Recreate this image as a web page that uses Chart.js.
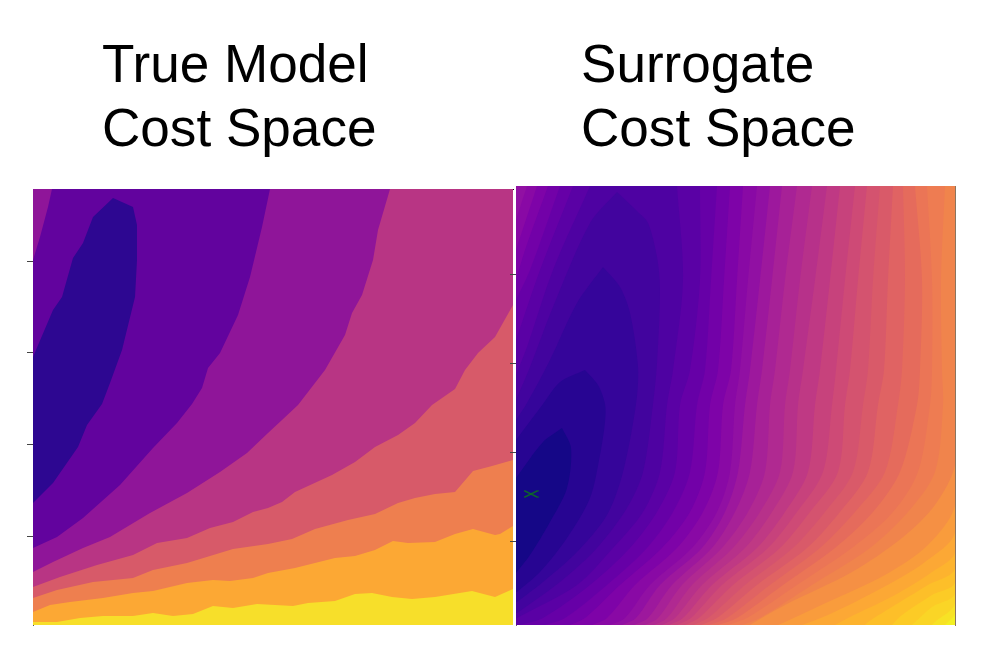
<!DOCTYPE html>
<html><head><meta charset="utf-8">
<style>html,body{margin:0;padding:0;background:#fff}canvas{position:absolute;left:0;top:0}</style>
<script src="https://cdn.jsdelivr.net/npm/chart.js@4"></script>
</head><body>
<canvas id="a" width="990" height="651"></canvas>
<canvas id="b" width="990" height="651"></canvas>
<script>
const titleLeft = ['True Model', 'Cost Space'];
const titleRight = ['Surrogate', 'Cost Space'];
const tickLeft = [364, 273, 181, 89];
const tickRight = [351, 262, 173, 84];

// True model: contour lines, lowest band first (x, y)
const trueColors = ['#f7df2a','#fca834','#ee7f4f','#d75a69','#b83584','#8f1599','#62039e','#2d0791','#62039e','#8f1599'];
const trueX = [
 [0,480],
 [0,24,47,70,100,120,140,160,180,200,224,260,275,302,322,339,359,379,402,439,462,480],
 [0,17,37,70,100,120,154,180,197,220,235,262,302,322,342,360,375,402,422,440,462,467,480],
 [0,24,60,100,120,154,200,235,259,282,315,342,365,382,402,422,440,459,480],
 [0,27,64,100,124,154,177,200,220,235,249,262,299,322,342,365,382,399,422,432,445,462,480],
 [0,20,50,77,117,154,187,214,235,249,265,292,312,319,329,340,345,357],
 [0,24,50,87,120,144,159,169,175,187,205,217,229,237],
 [0,20,45,54,69,77,89,102,104,104],
 [0,20,29,40,50,60,80,100,104],
 [0,7,15,19]
];
const trueY = [
 [0,0],
 [3,3,7,9,9,12,9,11,19,17,21,19,22,24,31,32,28,26,28,34,28,36],
 [13,20,23,27,32,34,42,45,44,47,52,57,67,69,75,84,82,83,91,96,90,91,99],
 [27,35,43,47,55,62,76,81,86,96,105,111,122,127,131,133,154,159,165],
 [38,48,60,70,82,87,97,103,113,117,123,133,150,163,178,190,202,220,236,255,272,288,320],
 [53,63,77,88,112,132,153,172,192,205,220,255,290,312,330,365,395,436],
 [77,88,107,140,177,202,221,237,257,272,310,348,398,436],
 [122,142,178,200,221,242,275,328,365,400],
 [268,315,328,367,382,408,427,418,400],
 [365,388,418,436]
];

// Surrogate: band colours from the deepest level upward
const surColors = ['#150787','#270592','#35059a','#42049e','#4e02a2','#5a01a5','#6600a7','#7201a8','#7e03a8','#8909a5','#9110a3','#9d189d','#a72197','#b02991','#b7318a','#bf3984','#c7427c','#ce4a76','#d4536f','#d95a69','#e06363','#e56b5c','#eb7556','#ee7c52','#f0844c','#f59044','#f99c3c','#fca835','#fdb32e','#fdbf29','#fccb26','#fad526','#f7e225','#f3f023'];
const rows = [0,7,40,77,113,153,220,255,345,439];
// right-hand arms of levels 4..23 on the shared rows
const armsMid = [
 [-11,1,61,97,127,144,151,157,167,161],
 [4,27,74,114,141,159,164,174,184,184],
 [29,49,91,131,157,174,181,189,195,201],
 [54,69,104,146,174,189,194,202,208,214],
 [76,91,119,161,187,202,207,215,221,227],
 [94,109,134,176,201,214,219,224,232,241],
 [106,120,144,186,209,222,229,234,244,254],
 [118,132,156,196,219,234,241,246,256,266],
 [129,142,166,206,232,249,254,259,269,281],
 [138,151,176,217,244,264,269,274,284,296],
 [146,159,186,229,256,277,282,287,299,311],
 [153,167,196,241,269,292,299,304,314,324],
 [161,175,206,252,281,307,316,320,329,339],
 [169,183,217,264,294,322,329,334,342,351],
 [177,192,229,277,309,337,347,352,357,364],
 [185,201,241,291,324,352,362,368,372,377],
 [193,211,254,304,339,369,382,386,389,387],
 [202,221,267,319,357,384,401,404,406,399],
 [212,231,281,336,377,402,414,416,416,411],
 [226,244,296,354,392,419,427,426,425,429]
];
// levels 0..3: closed near the left edge
const armsLowX = [
 [0,14,34,51,55,46],
 [1,24,51,74,84,89,89,82,69],
 [1,27,61,91,107,120,122,114,104,87],
 [1,44,81,111,127,137,141,144,141,132,122,101]
];
const armsLowY = [
 [52,70,103,137,177,197],
 [33,53,87,127,170,203,221,240,255],
 [23,43,73,110,153,221,258,312,338,358],
 [12,43,77,117,153,221,262,335,368,402,413,433]
];
// levels 24..32: leave through the right edge
const armsHighX = [
 [234,239,269,336,386,419,439,480],
 [262,269,312,369,412,439,480],
 [286,312,366,409,439,480],
 [319,332,379,416,439,480],
 [349,352,379,412,439,480],
 [376,386,416,439,480],
 [396,416,439,480],
 [416,419,439,480],
 [429,439,480]
];
const armsHighY = [
 [0,3,20,53,87,120,160,439],
 [0,3,23,50,80,120,439],
 [0,10,37,63,93,439],
 [0,7,30,53,73,439],
 [0,3,20,40,57,439],
 [0,10,30,43,439],
 [0,18,32,439],
 [0,3,22,439],
 [0,12,439]
];
// left-hand arms of levels 0..9
const armsLeftX = [
 [0,27,46],[0,27,44,69],[0,11,34,61,87],[0,14,37,74,101],[0,11,37,74],
 [0,24,57],[0,14,44],[0,9,32],[0,21],[0,11]
];
const armsLeftY = [
 [147,183,197],[185,221,243,255],[205,222,265,322,358],[225,258,318,402,433],[250,278,355,439],
 [285,355,439],[325,355,439],[345,375,439],[375,439],[405,439]
];
const markerX = [15];
const markerY = [131];

const zip = (xs, ys) => xs.map((x, i) => ({x, y: ys[i]}));
const band = (data, color, fill, n, tension = 0) => ({type:'line', data, fill, backgroundColor:color, borderWidth:0, borderColor:color, pointRadius:0, tension, order:n});

// ---- left chart
const leftSets = trueX.map((xs, i) => band(zip(xs, trueY[i]), trueColors[i], 'end', 100 - i));

const titlePlace = x => ({id:'titlePlace', afterLayout(c){ c.titleBlock.left = x; }});
const fit = (k, v) => s => { s[k] = v; };
const tickAxis = (ticks, min, max, width, len, color) => ({
  type:'linear', min, max, position:'left', afterFit:fit('width', width),
  afterBuildTicks:s => { s.ticks = ticks.map(value => ({value})); },
  ticks:{display:false},
  grid:{drawOnChartArea:false, drawTicks:true, tickLength:len, tickColor:'#444', tickWidth:1},
  border:{display:true, color, width:1}
});
const frame = (pos, min, max, color) => ({
  type:'linear', min, max, position:pos, ticks:{display:false},
  grid:{display:true, drawOnChartArea:false, drawTicks:false},
  border:{display:true, color, width:1},
  afterFit:s => { if (s.isHorizontal()) s.height = 0; else s.width = 0; }
});
const commonOpts = (text, top, bottom) => ({
  responsive:false, animation:false, devicePixelRatio:1,
  plugins:{legend:{display:false}, tooltip:{enabled:false},
    title:{display:true, text, align:'start', color:'#000',
      font:{family:'"Liberation Sans"', size:53.1, lineHeight:64/53.1, weight:'normal'},
      padding:{top, bottom}}}
});

new Chart(document.getElementById('a'), {
  type:'line',
  data:{datasets:leftSets},
  plugins:[titlePlace(102)],
  options:Object.assign(commonOpts(titleLeft, 35.5, 25.5), {
    parsing:true,
    layout:{padding:{left:0, top:0, right:477, bottom:26}},
    scales:{
      x:{type:'linear', min:0, max:480, display:false},
      y:tickAxis(tickLeft, 0, 436, 33, 6, '#555'),
      xTop:frame('top', 0, 480, '#111')
    }
  })
});

// ---- right chart
const toLeft = {value:-40};
const bend = 0.3;
const rightSets = [];
let ord = 500;
rightSets.push(band([{x:480,y:0},{x:480,y:439}], surColors[33], toLeft, ord--));
for (let i = armsHighX.length - 1; i >= 0; i--)
  rightSets.push(band(zip(armsHighX[i], armsHighY[i]), surColors[24 + i], toLeft, ord--, bend));
for (let i = armsMid.length - 1; i >= 0; i--)
  rightSets.push(band(zip(armsMid[i], rows), surColors[4 + i], toLeft, ord--, bend));
for (let i = armsLowX.length - 1; i >= 0; i--)
  rightSets.push(band(zip(armsLowX[i], armsLowY[i]), surColors[i], toLeft, ord--, bend));
armsLeftX.forEach((xs, i) =>
  rightSets.push(band(zip(xs, armsLeftY[i]), surColors[i + 1], toLeft, ord--, bend)));

const mark = document.createElement('canvas');
mark.width = 15; mark.height = 8;
const g = mark.getContext('2d');
g.strokeStyle = '#0f6a25'; g.lineWidth = 1.4;
g.beginPath(); g.moveTo(0.5,0.5); g.lineTo(14.5,7.5); g.moveTo(14.5,0.5); g.lineTo(0.5,7.5); g.stroke();
rightSets.push({type:'line', data:zip(markerX, markerY), showLine:false, pointStyle:mark, pointRadius:7, order:1});

new Chart(document.getElementById('b'), {
  type:'line',
  data:{datasets:rightSets},
  plugins:[titlePlace(581)],
  options:Object.assign(commonOpts(titleRight, 35.5, 22.5), {
    indexAxis:'y',
    layout:{padding:{left:510, top:0, right:35, bottom:26}},
    scales:{
      x:{type:'linear', min:0, max:439, display:false},
      y:tickAxis(tickRight, 0, 439, 6, 6, '#666'),
      yEnd:frame('right', 0, 439, '#8a7560')
    }
  })
});
</script>
</body></html>
